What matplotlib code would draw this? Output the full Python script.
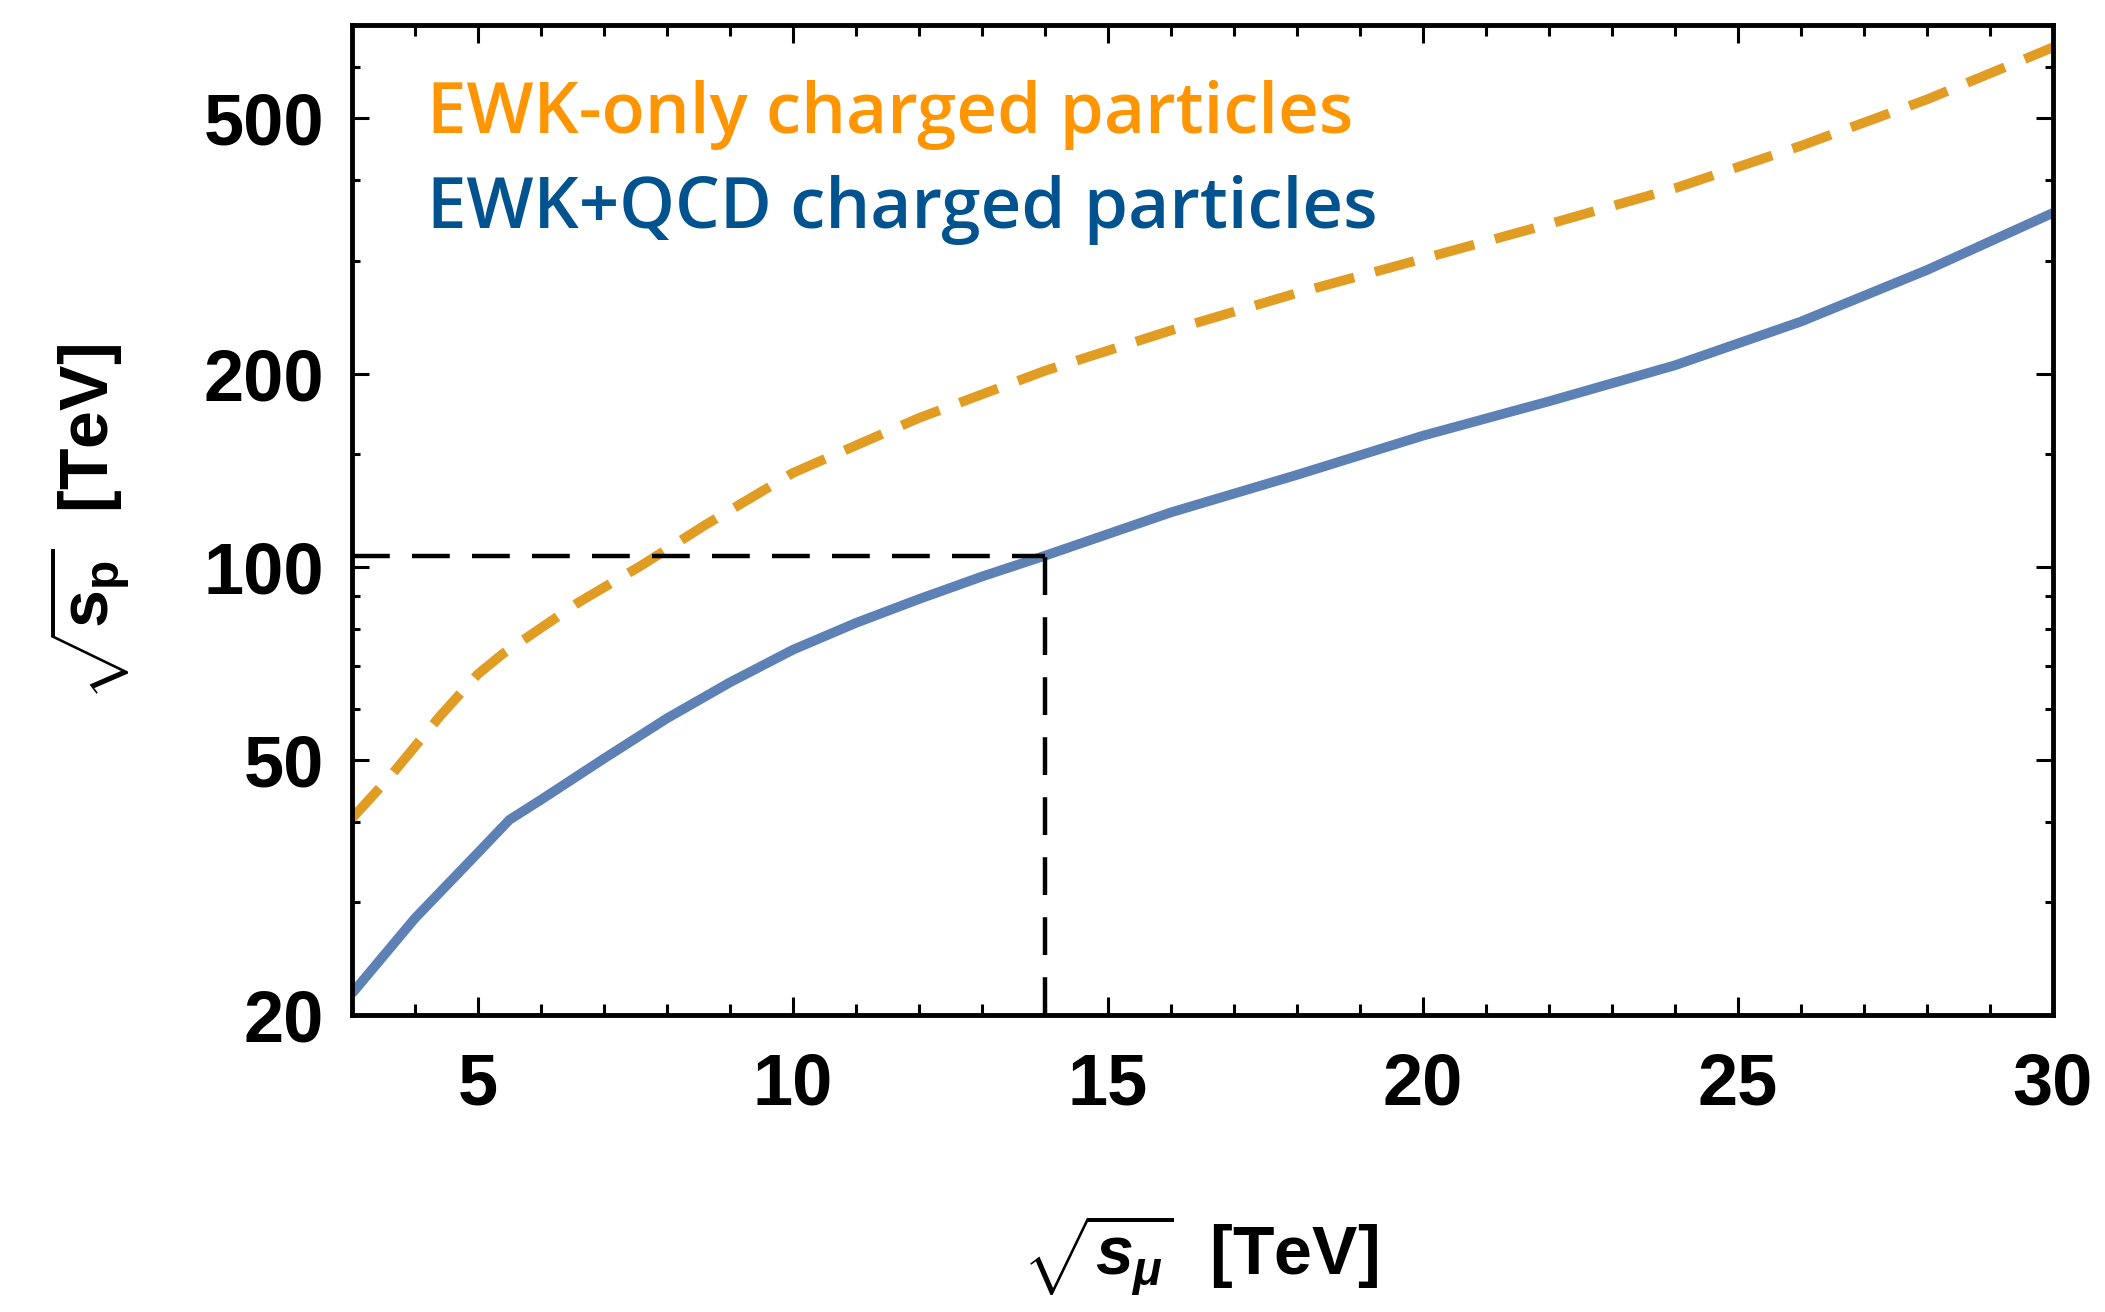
import matplotlib
matplotlib.use("Agg")

import matplotlib.pyplot as plt
from matplotlib.ticker import FixedLocator, MultipleLocator, NullFormatter

# sqrt(s_mu) [TeV] on x, equivalent sqrt(s_p) [TeV] on y (log)
ewk_qcd_x = [3, 4, 5, 5.5, 6, 7, 8, 9, 10, 11, 12, 13, 14, 16, 18, 20, 22, 24, 26, 28, 30]
ewk_qcd_y = [21.6, 28.3, 35.8, 40.3, 43.3, 50.2, 58, 66, 74.2, 81.7, 89, 96.5, 104,
             121.5, 139, 160, 181, 206, 241, 290, 356]

ewk_only_x = [3, 3.6, 4.4, 5, 5.4, 5.8, 6.6, 7.6, 8.6, 10, 12, 14, 16, 18, 20, 22, 24, 26, 28, 30]
ewk_only_y = [40.5, 47, 58.5, 68, 73.2, 77.8, 88, 100.5, 116, 140, 170.5, 202, 233.5,
              267, 302, 342, 389, 453, 535, 645]

# reference point: 14 TeV muon collider
ref_x = 14
ref_y = 104

x_lim = (3, 30)
y_lim = (20, 700)
y_ticks = [20, 50, 100, 200, 500]
y_minor = [30, 40, 60, 70, 80, 90, 150, 300, 400, 600, 700]

labels = ["EWK-only charged particles", "EWK+QCD charged particles"]

plt.rcParams["mathtext.fontset"] = "custom"
plt.rcParams["mathtext.rm"] = "Liberation Sans:bold"
plt.rcParams["mathtext.bf"] = "Liberation Sans:bold"
plt.rcParams["mathtext.it"] = "Liberation Sans:italic:bold"

fig = plt.figure(figsize=(21.05, 13.12), dpi=100)
ax = fig.add_axes([0.1672, 0.2264, 0.9753 - 0.1672, 0.9813 - 0.2264])

ax.plot(ewk_only_x, ewk_only_y, color="#E19C24", lw=7, dashes=(4.2, 2.2),
        dash_capstyle="butt", solid_joinstyle="round", zorder=2)
ax.plot(ewk_qcd_x, ewk_qcd_y, color="#5E81B5", lw=7, solid_capstyle="butt",
        solid_joinstyle="round", zorder=2)

# dashed guide lines
ax.plot([x_lim[0], ref_x], [ref_y, ref_y], color="black", lw=3.2, dashes=(8.5, 5), zorder=3)
ax.plot([ref_x, ref_x], [y_lim[0], ref_y], color="black", lw=3.2, dashes=(8.5, 5), zorder=3)

ax.set_yscale("log")
ax.set_xlim(*x_lim)
ax.set_ylim(*y_lim)

ax.xaxis.set_major_locator(MultipleLocator(5))
ax.xaxis.set_minor_locator(MultipleLocator(1))
ax.yaxis.set_major_locator(FixedLocator(y_ticks))
ax.yaxis.set_minor_locator(FixedLocator(y_minor))
ax.yaxis.set_major_formatter(plt.FuncFormatter(lambda v, p: f"{int(v)}"))
ax.yaxis.set_minor_formatter(NullFormatter())

for s in ax.spines.values():
    s.set_linewidth(3.5)

ax.tick_params(which="both", direction="in", top=True, right=True, width=2.2, colors="black")
ax.tick_params(axis="x", which="major", length=13, pad=26)
ax.tick_params(axis="x", which="minor", length=8)
ax.tick_params(axis="y", which="major", length=12, pad=20)
ax.tick_params(axis="y", which="minor", length=6)
for lab in ax.get_xticklabels() + ax.get_yticklabels():
    lab.set_fontfamily("Liberation Sans")
    lab.set_fontweight("bold")
    lab.set_fontsize(52)

# axis labels
fig.text(89 / 2105, 1 - 522 / 1312, r"$\sqrt{\mathbf{s}_{\mathbf{p}}}$  [TeV]", rotation=90,
         ha="center", va="center", fontsize=49, fontweight="bold", family="Liberation Sans")
fig.text(1200 / 2105, 1 - 1255 / 1312, r"$\sqrt{s_{\mu}}$  [TeV]",
         ha="center", va="center", fontsize=49, fontweight="bold", family="Liberation Sans")

# in-plot legend text
fig.text(427 / 2105, 1 - 133 / 1312, labels[0], color="#FF9500", fontsize=51,
         fontweight="semibold", family="Open Sans", ha="left", va="baseline")
fig.text(427 / 2105, 1 - 228 / 1312, labels[1], color="#00538F", fontsize=51,
         fontweight="semibold", family="Open Sans", ha="left", va="baseline")

fig.savefig("out.png", dpi=100)
plt.close(fig)
